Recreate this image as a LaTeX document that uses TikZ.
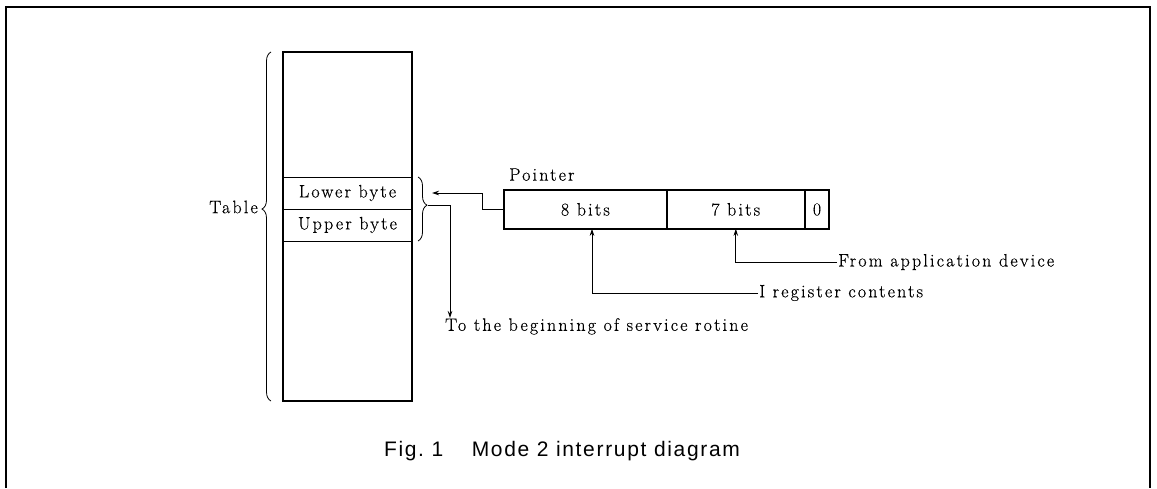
\documentclass[tikz,border=0pt]{standalone}
\usepackage{fontspec}
\newfontfamily\capfont{Liberation Sans}[LetterSpace=8]
\newfontfamily\serfont{Latin Modern Roman}[LetterSpace=12,FakeBold=0.4]
\usetikzlibrary{arrows.meta,decorations.pathreplacing,calc}
\tikzset{
  txt/.style={font=\serfont\fontsize{18}{20}\selectfont, inner sep=1pt},
  cell/.style={draw, line width=0.8pt, minimum height=38pt, inner sep=0pt, anchor=north west},
  row/.style={draw, line width=0.8pt, minimum width=129pt, minimum height=32pt, inner sep=0pt},
  conn/.style={line width=0.8pt},
  arr/.style={conn, -{Stealth[length=7pt,width=4.5pt]}},
  brc/.style={decorate, line width=0.8pt, decoration={brace, amplitude=9pt}},
}
\begin{document}
\begin{tikzpicture}[x=1pt,y=-1pt]
\useasboundingbox (0,0) rectangle (1157,488);
% outer frame
\draw[line width=1.2pt] (6,488) -- (6,7) -- (1150,7) -- (1150,488);
% table
\node[row, txt] (lower) at (347.5,193) {Lower byte};
\node[row, txt] (upper) at (347.5,225) {Upper byte};
\node[draw, line width=2.2pt, minimum width=129pt, minimum height=349pt, inner sep=0pt] (table) at (347.5,226.5) {};
\draw[brc, decoration={aspect=0.55}] (271,401) -- (271,52);
\node[txt, anchor=east] (tlabel) at (259,207) {Table};
\draw[brc, decoration={aspect=0.44}] (418,177) -- (418,241);
\coordinate (btip) at (428,205);
\coordinate (bin) at (432,193);
% pointer
\node[txt, anchor=south west] (ptrlabel) at (508,182) {Pointer};
\node[cell, minimum width=162pt, txt] (p8) at (504,190) {8 bits};
\node[cell, minimum width=137pt, txt] (p7) at (p8.north east) {7 bits};
\node[cell, minimum width=24pt, txt] (p0) at (p7.north east) {0};
\draw[line width=2pt] (p8.north west) rectangle (p0.south east);
\coordinate (a8) at ($(p8.south west)+(88,0)$);
\coordinate (a7) at ($(p7.south west)+(69,0)$);
% labels
\node[txt, anchor=west] (from) at (837,262) {From application device};
\node[txt, anchor=west] (ireg) at (758,293) {I register contents};
\coordinate (down) at (450,318);
\node[txt, anchor=north west] (tobeg) at (444,317) {To the beginning of service rotine};
% connectors
\draw[arr] (p8.west) -- ++(-22,0) |- (bin);
\draw[arr] (btip) -| (down);
\draw[arr] (ireg.west) -| (a8);
\draw[arr] (from.west) -| (a7);
% caption
\node[font=\capfont\fontsize{21}{24}\selectfont, anchor=base] (cap) at (562,456) {Fig.~1\quad\ Mode 2 interrupt diagram};
\end{tikzpicture}
\end{document}
